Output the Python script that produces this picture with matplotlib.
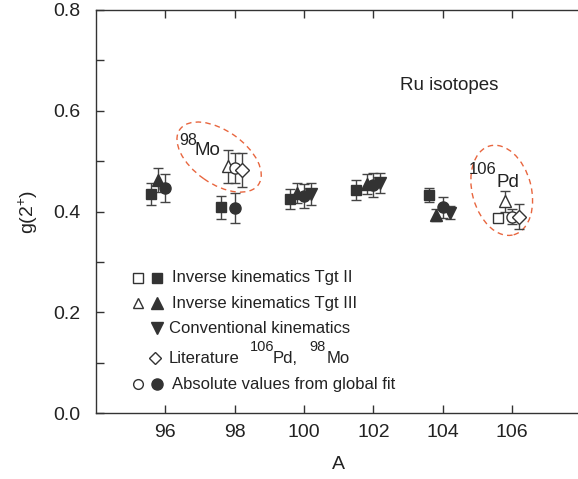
import matplotlib
matplotlib.use("Agg")
import matplotlib.pyplot as plt
from matplotlib.patches import Ellipse
from matplotlib.transforms import ScaledTranslation
from matplotlib.lines import Line2D

# ---- data ----
# Inverse kinematics Tgt II (filled squares)
sq_A = [95.6, 97.6, 99.6, 101.5, 103.6]
sq_g = [0.434, 0.408, 0.425, 0.443, 0.432]
sq_e = [0.022, 0.022, 0.020, 0.020, 0.014]
# Inverse kinematics Tgt III (filled up triangles)
tu_A = [95.8, 99.8, 101.8, 103.8]
tu_g = [0.462, 0.437, 0.455, 0.393]
tu_e = [0.024, 0.020, 0.020, 0.012]
# Conventional kinematics (filled down triangles)
td_A = [100.2, 102.2, 104.2]
td_g = [0.435, 0.456, 0.398]
td_e = [0.022, 0.020, 0.012]
# Absolute values from global fit (filled circles)
ci_A = [96.0, 98.0, 100.0, 102.0, 104.0]
ci_g = [0.446, 0.407, 0.430, 0.452, 0.408]
ci_e = [0.028, 0.029, 0.024, 0.024, 0.020]
# Open symbols: 98Mo and 106Pd
osq_A = [105.6]
osq_g = [0.388]
osq_e = [0.0]
otu_A = [97.8, 105.8]
otu_g = [0.490, 0.420]
otu_e = [0.033, 0.020]
oci_A = [98.0, 106.0]
oci_g = [0.486, 0.390]
oci_e = [0.030, 0.014]
dia_A = [98.2, 106.2]
dia_g = [0.483, 0.390]
dia_e = [0.034, 0.024]

xticks = [96, 98, 100, 102, 104, 106]
yticks = [0.0, 0.2, 0.4, 0.6, 0.8]

legend_rows = [
    ("Inverse kinematics Tgt II", "s", True, True),
    ("Inverse kinematics Tgt III", "^", True, True),
    ("Conventional kinematics", "v", False, True),
    ("Literature", "D", True, False),
    ("Absolute values from global fit", "o", True, True),
]

dark = "#333333"
ecol = "#444444"
txt = "#222222"
orange = "#e8663f"
plt.rcParams['font.family'] = ['Liberation Sans', 'DejaVu Sans']
plt.rcParams['mathtext.fontset'] = 'custom'
plt.rcParams['mathtext.rm'] = 'Liberation Sans'

fig = plt.figure(figsize=(5.78, 4.79), dpi=100)
AXW = 0.840
ax = fig.add_axes([96/578, 1-413/479, AXW, (413-10)/479])

def plot_series(A, g, e, marker, filled, ms):
    ax.errorbar(A, g, yerr=e, fmt=marker, ms=ms,
                mfc=dark if filled else "white", mec=dark, mew=1.0,
                ecolor=ecol, elinewidth=1.0, capsize=3.6, capthick=1.0, zorder=3)

plot_series(sq_A, sq_g, sq_e, "s", True, 7)
plot_series(tu_A, tu_g, tu_e, "^", True, 8)
plot_series(td_A, td_g, td_e, "v", True, 8)
plot_series(ci_A, ci_g, ci_e, "o", True, 8)
plot_series(osq_A, osq_g, osq_e, "s", False, 7)
plot_series(otu_A, otu_g, otu_e, "^", False, 8)
plot_series(oci_A, oci_g, oci_e, "o", False, 8)
plot_series(dia_A, dia_g, dia_e, "D", False, 7)

ax.set_xlim(94, 108)
ax.set_ylim(0.0, 0.8)
ax.set_xticks(xticks)
ax.set_xticklabels([str(t) for t in xticks])
ax.set_yticks(yticks)
ax.set_yticklabels([f"{t:.1f}" for t in yticks])
ax.set_yticks([0.1, 0.3, 0.5, 0.7], minor=True)
ax.tick_params(which='both', direction='in', top=True, right=False,
               labelsize=14, width=1.0, color="#333333", labelcolor=txt)
ax.tick_params(which='major', length=6)
ax.tick_params(axis='x', which='major', pad=8)
ax.tick_params(axis='y', which='major', pad=11)
ax.tick_params(which='minor', length=6)
ax.spines['right'].set_visible(False)
for s in ['left', 'bottom', 'top']:
    ax.spines[s].set_color("#333333")
    ax.spines[s].set_linewidth(1.0)

ax.set_xlabel("A", fontsize=14, labelpad=11, color=txt)
ax.set_ylabel("g(2$^{+}$)", fontsize=14, labelpad=10, color=txt)

ax.text(0.626, (413-86)/403, "Ru isotopes", transform=ax.transAxes,
        fontsize=13.5, color=txt, va="center")

# ellipses
def add_ellipse(cx, cy, w_px, h_px, ang):
    tr = fig.dpi_scale_trans + ScaledTranslation(cx, cy, ax.transData)
    e = Ellipse((0, 0), w_px/100, h_px/100, angle=ang, transform=tr,
                fill=False, ec=orange, ls=(0, (4, 3)), lw=1.0, zorder=2)
    ax.add_patch(e)

add_ellipse(97.55, 0.508, 96, 53, -35)
add_ellipse(105.70, 0.442, 59, 92, 15)

def fx(px):
    return px/578
def fy(py):
    return 1 - py/479

# isotope labels with large superscripts (pixel placement)
fig.text(fx(179), fy(145), "98", fontsize=11.5, color=txt, va="baseline")
fig.text(fx(195), fy(155), "Mo", fontsize=13.5, color=txt, va="baseline")
fig.text(fx(469), fy(174), "106", fontsize=12, color=txt, va="baseline")
fig.text(fx(497), fy(187), "Pd", fontsize=13.5, color=txt, va="baseline")

# custom legend
row_y = [277.7, 303.3, 328.3, 358.0, 384.0]
for (label, mk, has_open, has_fill), yp in zip(legend_rows, row_y):
    yf = fy(yp)
    if mk == "D":
        ax.add_artist(Line2D([fx(155)], [yf], marker=mk, ms=6.5,
                             mfc="white", mec=dark, mew=1.0, ls="none",
                             transform=fig.transFigure))
    else:
        if has_open:
            ax.add_artist(Line2D([fx(138)], [yf], marker=mk, ms=7,
                                 mfc="white", mec=dark, mew=1.0, ls="none",
                                 transform=fig.transFigure))
        if has_fill:
            ax.add_artist(Line2D([fx(156.5)], [yf], marker=mk, ms=7 if mk == "s" else 8,
                                 mfc=dark, mec=dark, mew=1.0, ls="none",
                                 transform=fig.transFigure))
    xt = fx(172) if mk in ("s", "^", "o") else fx(169)
    if mk == "D":
        fig.text(xt, fy(363), label, fontsize=12, va="baseline", ha="left", color=txt)
        fig.text(fx(250), fy(351), "106", fontsize=10.5, va="baseline", ha="left", color=txt)
        fig.text(fx(273), fy(363), "Pd,", fontsize=12, va="baseline", ha="left", color=txt)
        fig.text(fx(309), fy(351), "98", fontsize=10.5, va="baseline", ha="left", color=txt)
        fig.text(fx(327), fy(363), "Mo", fontsize=12, va="baseline", ha="left", color=txt)
    else:
        fig.text(xt, yf, label, fontsize=12, va="center", ha="left", color=txt)

fig.savefig("out.png", dpi=100)
